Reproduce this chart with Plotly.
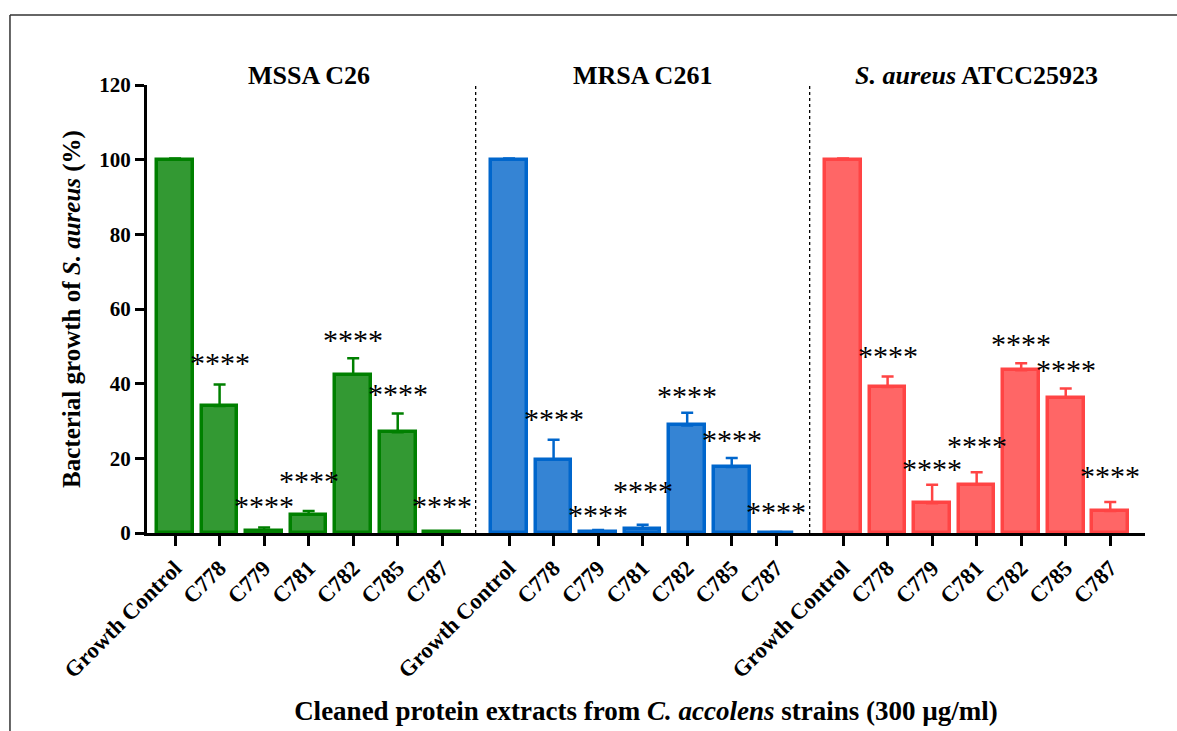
import plotly.graph_objects as go

# ---- data ----
strains = ["Growth Control", "C778", "C779", "C781", "C782", "C785", "C787"]
groups = ["MSSA C26", "MRSA C261", "<i>S. aureus</i> ATCC25923"]

mssa_mean = [100, 34.0, 0.6, 4.9, 42.4, 27.0, 0.2]
mssa_err = [0.3, 5.8, 0.9, 1.0, 4.4, 5.0, 0.3]
mrsa_mean = [100, 19.6, 0.3, 1.2, 28.8, 17.7, 0.1]
mrsa_err = [0.3, 5.4, 0.5, 1.0, 3.4, 2.4, 0.2]
sa_mean = [100, 39.1, 8.0, 12.9, 43.6, 36.2, 5.9]
sa_err = [0.3, 2.8, 4.9, 3.4, 1.9, 2.5, 2.4]

significance = ["", "****", "****", "****", "****", "****", "****"]
# height (% growth) at which each significance label sits
mssa_sig_level = [0, 46.3, 8.0, 14.7, 52.5, 37.8, 8.0]
mrsa_sig_level = [0, 31.1, 5.4, 12.0, 37.5, 25.7, 6.2]
sa_sig_level = [0, 48.2, 17.7, 24.1, 51.2, 44.2, 16.0]

means = [mssa_mean, mrsa_mean, sa_mean]
errs = [mssa_err, mrsa_err, sa_err]
sig_levels = [mssa_sig_level, mrsa_sig_level, sa_sig_level]

fills = ["#339933", "#3584d4", "#ff6666"]
lines = ["#008000", "#0066cc", "#ff4444"]

FONT = "Liberation Serif"
group_step = 7.5

fig = go.Figure()
tickvals, ticktext = [], []
annotations = []
for g in range(3):
    xs = [g * group_step + i for i in range(len(strains))]
    tickvals += xs
    ticktext += strains
    fig.add_trace(go.Bar(
        x=xs, y=means[g], width=0.8,
        marker=dict(color=fills[g], line=dict(color=lines[g], width=3.5)),
        error_y=dict(type="data", array=errs[g], arrayminus=[0] * 7, symmetric=False,
                     color=lines[g], thickness=2.5, width=6),
        showlegend=False,
    ))
    for i, s in enumerate(significance):
        if s:
            annotations.append(dict(
                x=xs[i], y=sig_levels[g][i], xref="x", yref="y",
                text=s, showarrow=False,
                font=dict(family=FONT, size=30, color="black"),
                xanchor="center", yanchor="middle", yshift=-2))
    annotations.append(dict(
        x=g * group_step + 3, y=0.985, xref="x", yref="paper",
        text="<b>" + groups[g] + "</b>", showarrow=False,
        font=dict(family=FONT, size=26, color="black"),
        xanchor="center", yanchor="bottom"))

shapes = []
for g in range(1, 3):
    xd = g * group_step - 0.75
    shapes.append(dict(type="line", xref="x", yref="y", x0=xd, x1=xd, y0=0, y1=120,
                       line=dict(color="black", width=1.3, dash="dot")))
# outer frame
shapes.append(dict(type="line", xref="paper", yref="paper", x0=-0.1373, x1=1.1,
                   y0=1.156, y1=1.156, line=dict(color="#333", width=1.5)))
shapes.append(dict(type="line", xref="paper", yref="paper", x0=-0.1373, x1=-0.1373,
                   y0=1.156, y1=-0.5, line=dict(color="#333", width=1.5)))

fig.update_layout(
    width=1177, height=731,
    margin=dict(l=147, r=32, t=85, b=198),
    paper_bgcolor="white", plot_bgcolor="white",
    font=dict(family=FONT, color="black"),
    bargap=0,
    annotations=annotations,
    shapes=shapes,
    xaxis=dict(
        range=[-0.63, 21.78], tickmode="array", tickvals=tickvals,
        ticktext=["<b>" + t + "</b>" for t in ticktext], tickangle=-45,
        tickfont=dict(family=FONT, size=22.5, color="black"),
        showline=True, linecolor="black", linewidth=3,
        ticks="outside", ticklen=10, tickwidth=3, tickcolor="black",
        showgrid=False, zeroline=False, automargin=False,
        title=dict(text="<b>Cleaned protein extracts from <i>C. accolens</i> strains (300 µg/ml)</b>",
                   font=dict(family=FONT, size=27, color="black"), standoff=20),
    ),
    yaxis=dict(
        range=[0, 120], tickvals=[0, 20, 40, 60, 80, 100, 120],
        ticktext=["<b>%d</b>" % v for v in [0, 20, 40, 60, 80, 100, 120]],
        tickfont=dict(family=FONT, size=21, color="black"),
        showline=True, linecolor="black", linewidth=3,
        ticks="outside", ticklen=9, tickwidth=3, tickcolor="black",
        showgrid=False, zeroline=False, automargin=False,
        title=dict(text="<b>Bacterial growth of <i>S. aureus</i> (%)</b>",
                   font=dict(family=FONT, size=25, color="black"), standoff=12),
    ),
)

fig.write_html("out.html")
